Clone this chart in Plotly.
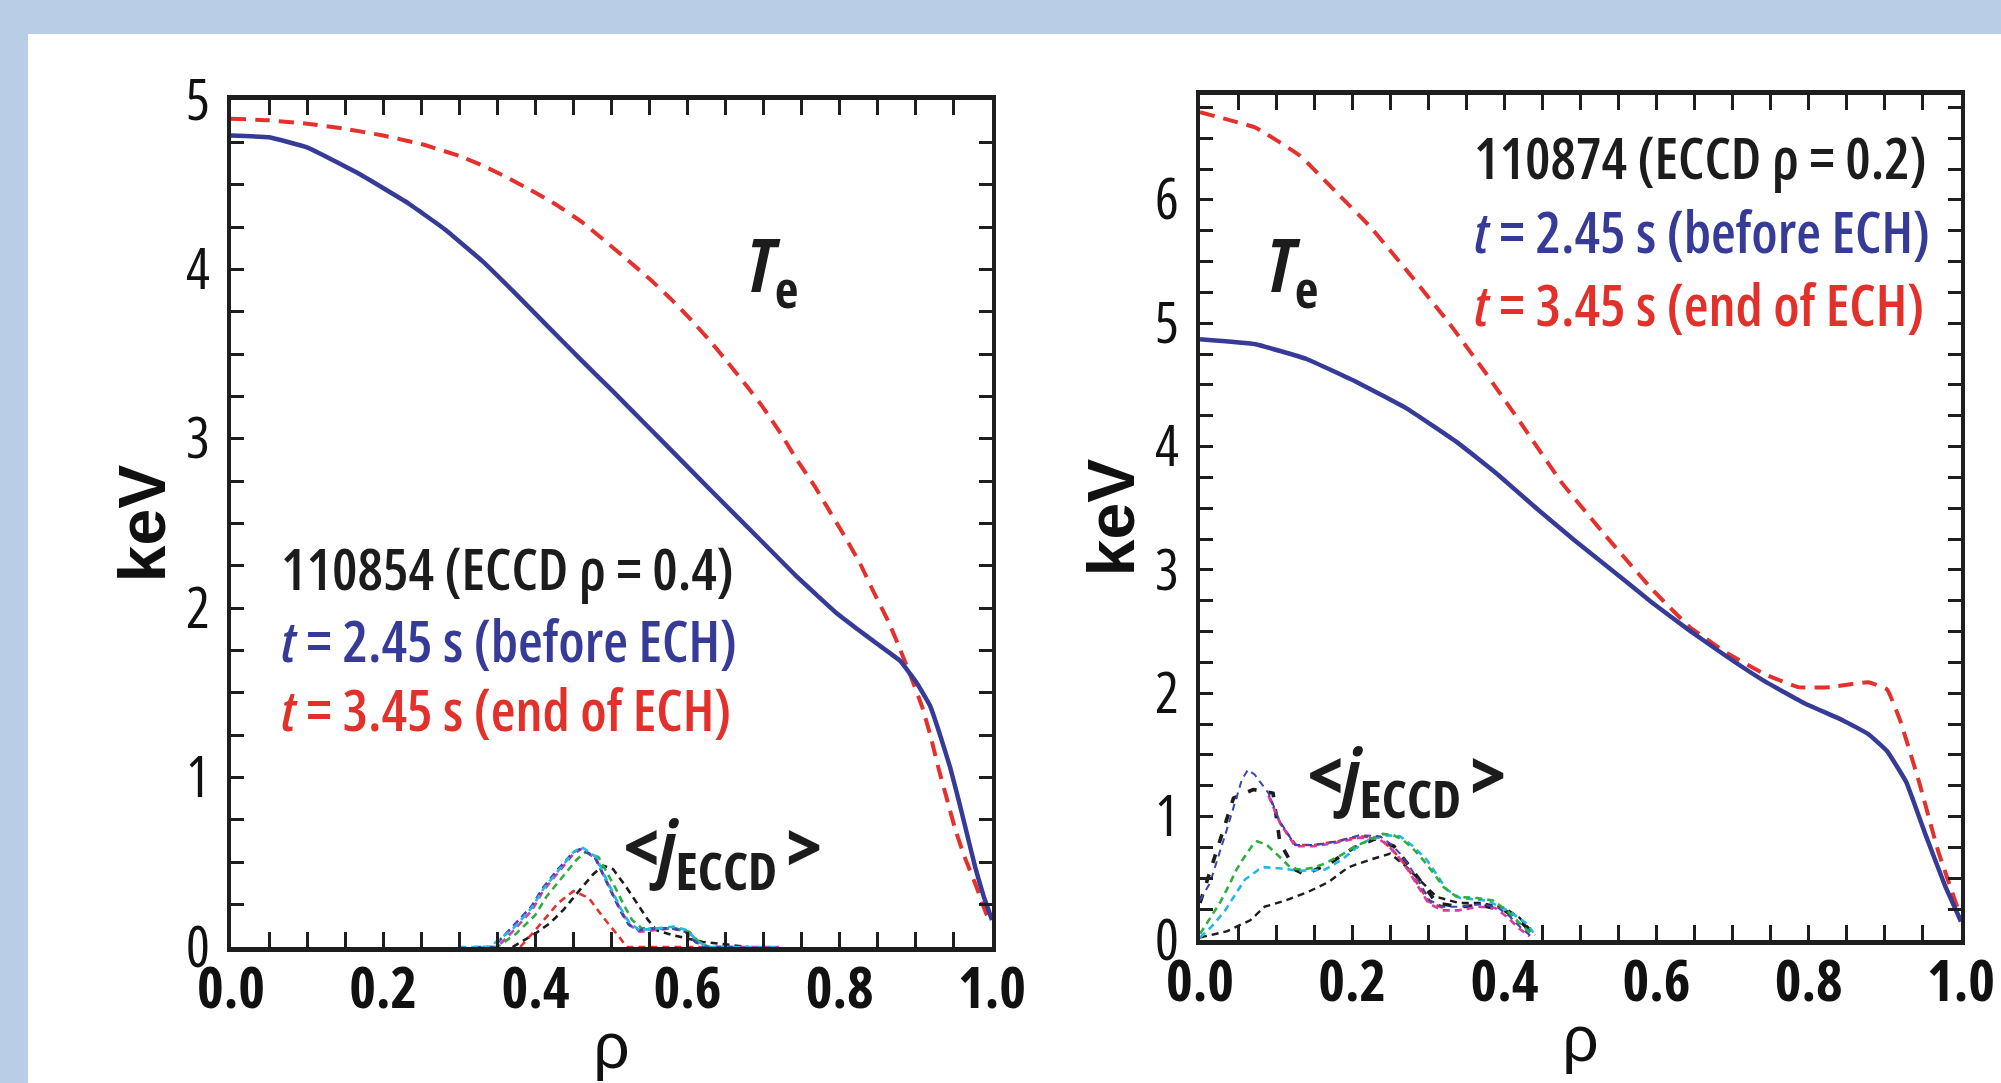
import plotly.graph_objects as go

# ---------------- electron temperature profiles ----------------
# shot 110854 (ECCD at rho = 0.4)
rho_L_before = [0.0, 0.05, 0.10, 0.166, 0.233, 0.28, 0.33, 0.371, 0.415, 0.459,
                0.502, 0.546, 0.59, 0.634, 0.694, 0.745, 0.796, 0.822, 0.849, 0.879,
                0.901, 0.919, 0.934, 0.945, 0.956, 0.967, 0.978, 0.989, 1.0]
te_L_before = [4.79, 4.78, 4.72, 4.57, 4.39, 4.24, 4.05, 3.87, 3.67, 3.47,
               3.28, 3.08, 2.88, 2.68, 2.41, 2.18, 1.97, 1.88, 1.79, 1.69,
               1.56, 1.42, 1.22, 1.06, 0.87, 0.67, 0.47, 0.30, 0.16]
rho_L_after = [0.0, 0.05, 0.10, 0.15, 0.20, 0.25, 0.30, 0.332, 0.362, 0.393, 0.428, 0.461,
               0.491, 0.52, 0.551, 0.577, 0.603, 0.629, 0.653, 0.678, 0.70, 0.724,
               0.743, 0.767, 0.783, 0.807, 0.827, 0.844, 0.864, 0.879, 0.894, 0.908,
               0.919, 0.93, 0.941, 0.952, 0.965, 0.98, 0.993, 1.0]
te_L_after = [4.89, 4.88, 4.86, 4.83, 4.79, 4.74, 4.67, 4.61, 4.545, 4.47, 4.38, 4.28,
              4.17, 4.06, 3.94, 3.83, 3.71, 3.58, 3.45, 3.31, 3.18, 3.02,
              2.88, 2.72, 2.60, 2.42, 2.26, 2.10, 1.92, 1.76, 1.59, 1.42,
              1.25, 1.05, 0.87, 0.69, 0.52, 0.35, 0.19, 0.14]

# shot 110874 (ECCD at rho = 0.2)
rho_R_before = [0.0, 0.073, 0.14, 0.207, 0.274, 0.341, 0.392, 0.442, 0.492, 0.543,
                0.593, 0.643, 0.694, 0.744, 0.794, 0.845, 0.878, 0.903, 0.928,
                0.953, 0.979, 1.0]
te_R_before = [4.87, 4.83, 4.71, 4.52, 4.30, 4.02, 3.77, 3.50, 3.24, 2.99,
               2.74, 2.51, 2.29, 2.09, 1.92, 1.78, 1.67, 1.53, 1.28,
               0.86, 0.44, 0.15]
rho_R_after = [0.0, 0.073, 0.131, 0.181, 0.224, 0.274, 0.325, 0.375, 0.425, 0.475,
               0.534, 0.593, 0.643, 0.694, 0.744, 0.786, 0.828, 0.878, 0.903,
               0.92, 0.945, 0.97, 1.0]
te_R_after = [6.71, 6.585, 6.36, 6.05, 5.78, 5.41, 5.02, 4.60, 4.16, 3.71,
              3.27, 2.85, 2.54, 2.32, 2.15, 2.05, 2.05, 2.09, 2.03,
              1.78, 1.28, 0.72, 0.18]

# ---------------- <j_ECCD> profiles (arbitrary units, shown on keV axis) ----------------
jL_rho_cyan = [0.30, 0.34, 0.371, 0.395, 0.41, 0.43, 0.45, 0.461, 0.48, 0.491, 0.502,
               0.513, 0.524, 0.537, 0.559, 0.581, 0.599, 0.612, 0.625, 0.72]
jL_cyan = [0.0, 0.0, 0.11, 0.23, 0.34, 0.45, 0.56, 0.59, 0.53, 0.42, 0.32,
           0.22, 0.14, 0.10, 0.11, 0.12, 0.10, 0.04, 0.0, 0.0]
jL_rho_blue = [0.32, 0.345, 0.37, 0.395, 0.41, 0.43, 0.45, 0.46, 0.478, 0.49, 0.50,
               0.512, 0.523, 0.536, 0.558, 0.58, 0.597, 0.61, 0.622, 0.66]
jL_blue = [0.0, 0.0, 0.12, 0.24, 0.35, 0.46, 0.56, 0.58, 0.53, 0.42, 0.32,
           0.21, 0.13, 0.10, 0.11, 0.11, 0.09, 0.03, 0.0, 0.0]
jL_rho_green = [0.33, 0.35, 0.375, 0.40, 0.415, 0.435, 0.455, 0.466, 0.483, 0.494, 0.505,
                0.516, 0.527, 0.54, 0.562, 0.584, 0.602, 0.615, 0.628, 0.65]
jL_green = [0.0, 0.0, 0.08, 0.19, 0.30, 0.41, 0.52, 0.56, 0.53, 0.44, 0.35,
            0.25, 0.16, 0.11, 0.11, 0.11, 0.09, 0.03, 0.0, 0.0]
jL_rho_magenta = [0.34, 0.35, 0.372, 0.396, 0.41, 0.43, 0.45, 0.461, 0.48, 0.491, 0.502,
                  0.513, 0.524, 0.537, 0.559, 0.58, 0.598, 0.611, 0.624, 0.72]
jL_magenta = [0.0, 0.0, 0.10, 0.22, 0.33, 0.44, 0.55, 0.58, 0.52, 0.41, 0.31,
              0.21, 0.13, 0.09, 0.10, 0.11, 0.09, 0.03, 0.0, 0.0]
jL_rho_black = [0.37, 0.40, 0.419, 0.437, 0.459, 0.476, 0.489, 0.502, 0.52, 0.537,
                0.548, 0.559, 0.58, 0.62, 0.66, 0.68]
jL_black = [0.0, 0.08, 0.14, 0.22, 0.34, 0.43, 0.48, 0.46, 0.35, 0.23,
            0.16, 0.10, 0.07, 0.03, 0.01, 0.0]
jL_rho_red = [0.38, 0.40, 0.43, 0.45, 0.47, 0.49, 0.51, 0.52, 0.63]
jL_red = [0.0, 0.10, 0.26, 0.33, 0.29, 0.17, 0.06, 0.0, 0.0]

jR_rho_blue = [0.0, 0.013, 0.035, 0.055, 0.063, 0.072, 0.09, 0.105, 0.125, 0.15, 0.18,
               0.21, 0.237, 0.25, 0.263, 0.276, 0.289, 0.302, 0.32, 0.342, 0.368,
               0.39, 0.407, 0.42, 0.435]
jR_blue = [0.32, 0.46, 0.89, 1.30, 1.38, 1.34, 1.19, 0.96, 0.77, 0.77, 0.80,
           0.85, 0.84, 0.78, 0.70, 0.59, 0.46, 0.32, 0.27, 0.27, 0.29,
           0.27, 0.19, 0.11, 0.03]
jR_rho_magenta = [0.09, 0.105, 0.125, 0.15, 0.18, 0.21, 0.235, 0.248, 0.26, 0.273,
                  0.286, 0.30, 0.318, 0.34, 0.366, 0.388, 0.405, 0.418, 0.433]
jR_magenta = [1.17, 0.95, 0.76, 0.76, 0.79, 0.83, 0.82, 0.76, 0.68, 0.57,
              0.44, 0.30, 0.24, 0.24, 0.27, 0.26, 0.18, 0.10, 0.03]
jR_rho_red = [0.092, 0.106, 0.126, 0.15, 0.18, 0.21, 0.236, 0.249, 0.262, 0.275,
              0.288, 0.301, 0.319]
jR_red = [1.15, 0.94, 0.77, 0.77, 0.80, 0.84, 0.83, 0.75, 0.67, 0.56,
          0.43, 0.31, 0.26]
jR_rho_green = [0.0, 0.015, 0.026, 0.037, 0.048, 0.057, 0.068, 0.075, 0.088, 0.107,
                0.12, 0.134, 0.151, 0.164, 0.186, 0.204, 0.221, 0.24, 0.254, 0.267,
                0.28, 0.293, 0.307, 0.32, 0.337, 0.364, 0.385, 0.403, 0.42, 0.434]
jR_green = [0.05, 0.19, 0.30, 0.43, 0.57, 0.66, 0.76, 0.80, 0.77, 0.66,
            0.58, 0.57, 0.59, 0.62, 0.69, 0.76, 0.81, 0.86, 0.85, 0.81,
            0.74, 0.65, 0.54, 0.43, 0.35, 0.34, 0.32, 0.24, 0.135, 0.06]
jR_rho_cyan = [0.0, 0.017, 0.033, 0.046, 0.059, 0.077, 0.085, 0.107, 0.13, 0.164,
               0.186, 0.204, 0.221, 0.245, 0.263, 0.28, 0.298, 0.311, 0.324, 0.342,
               0.377, 0.407, 0.429, 0.438]
jR_cyan = [0.02, 0.12, 0.24, 0.36, 0.49, 0.57, 0.59, 0.58, 0.56, 0.57,
           0.65, 0.74, 0.81, 0.85, 0.84, 0.76, 0.65, 0.53, 0.41, 0.34,
           0.32, 0.23, 0.135, 0.06]
jR_rho_black = [0.0, 0.044, 0.07, 0.096, 0.105, 0.125, 0.138, 0.17, 0.2, 0.23, 0.255,
                0.28, 0.311, 0.34, 0.37, 0.40, 0.42, 0.44]
jR_black = [0.3, 1.15, 1.22, 1.19, 0.79, 0.57, 0.53, 0.62, 0.74, 0.82, 0.76,
            0.56, 0.30, 0.27, 0.28, 0.24, 0.16, 0.03]
jR_rho_black2 = [0.0, 0.035, 0.066, 0.085, 0.112, 0.142, 0.169, 0.195, 0.223, 0.25,
                 0.27, 0.29, 0.311, 0.34, 0.37, 0.40, 0.42, 0.44]
jR_black2 = [0.02, 0.07, 0.16, 0.27, 0.32, 0.39, 0.47, 0.59, 0.65, 0.70,
             0.60, 0.48, 0.35, 0.30, 0.30, 0.26, 0.18, 0.04]

# tick labels
x_tick_vals = [0.0, 0.2, 0.4, 0.6, 0.8, 1.0]
x_tick_text = ["0.0", "0.2", "0.4", "0.6", "0.8", "1.0"]
yL_tick_vals = [0, 1, 2, 3, 4, 5]
yR_tick_vals = [0, 1, 2, 3, 4, 5, 6]

# ---------------- style ----------------
W, H = 2001, 1083
BLUE = "#363b98"
RED = "#e5302c"
TXT_BLUE = "#363b98"
TXT_RED = "#e3302b"
INK = "#1c1c1c"
CYAN = "#1fb8ec"
GREEN = "#2fae3c"
MAGENTA = "#d63aa8"
JBLUE = "#3e44b0"
FONT = "Open Sans, Liberation Sans, sans-serif"
SANS = "Liberation Sans, Arial, sans-serif"


def cond(s, weight=400):
    """Condensed face of the (variable-width) Open Sans font."""
    return '<span style="font-stretch:condensed;font-weight:%d">%s</span>' % (weight, s)


def px_x(p):
    return p / W


def px_y(p):
    return 1 - p / H


fig = go.Figure()


def jline(x, y, color, axis, width=2.6, dash="7px,5px"):
    fig.add_trace(go.Scatter(x=x, y=y, mode="lines", xaxis="x" + axis, yaxis="y" + axis,
                             line=dict(color=color, width=width, dash=dash),
                             showlegend=False, hoverinfo="skip"))


# left panel current-drive traces
jline(jL_rho_black, jL_black, INK, "")
jline(jL_rho_red, jL_red, RED, "")
jline(jL_rho_magenta, jL_magenta, MAGENTA, "")
jline(jL_rho_green, jL_green, GREEN, "")
jline(jL_rho_blue, jL_blue, JBLUE, "")
jline(jL_rho_cyan, jL_cyan, CYAN, "")

# right panel current-drive traces
jline(jR_rho_black2, jR_black2, INK, "2", width=2.4)
jline(jR_rho_black, jR_black, INK, "2", width=3.6, dash="9px,12px")
jline(jR_rho_red, jR_red, RED, "2")
jline(jR_rho_magenta, jR_magenta, MAGENTA, "2")
jline(jR_rho_cyan, jR_cyan, CYAN, "2")
jline(jR_rho_green, jR_green, GREEN, "2")
jline(jR_rho_blue, jR_blue, JBLUE, "2", width=2.0)

# temperature profiles
for ax, rb, tb, ra, ta in [("", rho_L_before, te_L_before, rho_L_after, te_L_after),
                           ("2", rho_R_before, te_R_before, rho_R_after, te_R_after)]:
    fig.add_trace(go.Scatter(x=ra, y=ta, mode="lines", xaxis="x" + ax, yaxis="y" + ax,
                             line=dict(color=RED, width=4, dash="15px,9px", shape="spline",
                                       smoothing=0.3),
                             showlegend=False, hoverinfo="skip"))
    fig.add_trace(go.Scatter(x=rb, y=tb, mode="lines", xaxis="x" + ax, yaxis="y" + ax,
                             line=dict(color=BLUE, width=4.5, shape="spline", smoothing=0.3),
                             showlegend=False, hoverinfo="skip"))

# ---------------- axes ----------------
common_x = dict(range=[0, 1], tickmode="array", tickvals=x_tick_vals,
                ticktext=[cond(t, 700) for t in x_tick_text],
                automargin=False,
                showline=True, linecolor="#1e1e1e", linewidth=5, mirror="ticks",
                ticks="inside", ticklen=15, tickwidth=3, tickcolor="#1e1e1e",
                minor=dict(tickmode="linear", tick0=0, dtick=0.05, ticks="inside",
                           ticklen=15, tickwidth=3, tickcolor="#1e1e1e"),
                showgrid=False, zeroline=False, ticklabeloverflow="allow",
                tickfont=dict(family=FONT, size=57, color="#111111"),
                ticklabelstandoff=-12,
                title=dict(text="ρ", font=dict(family=SANS, size=64, color="#111111"),
                           standoff=0))
common_y = dict(tickmode="array", automargin=False,
                showline=True, linecolor="#1e1e1e", linewidth=4, mirror="ticks",
                ticks="inside", ticklen=13, tickwidth=3, tickcolor="#1e1e1e",
                minor=dict(tickmode="linear", tick0=0, dtick=0.25, ticks="inside",
                           ticklen=13, tickwidth=3, tickcolor="#1e1e1e"),
                showgrid=False, zeroline=False, ticklabeloverflow="allow",
                tickfont=dict(family=FONT, size=56, color="#111111"),
                ticklabelstandoff=6,
                title=dict(text="<b>keV</b>", font=dict(family=SANS, size=66, color="#111111"),
                           standoff=0))

fig.update_layout(
    width=W, height=H,
    margin=dict(l=0, r=0, t=0, b=0, autoexpand=False),
    paper_bgcolor="#b9cde7",
    plot_bgcolor="white",
    xaxis=dict(domain=[px_x(231), px_x(992)], anchor="y", **common_x),
    yaxis=dict(domain=[px_y(947), px_y(100)], anchor="x", range=[0, 5],
               tickvals=yL_tick_vals,
               ticktext=[cond(str(v), 500) for v in yL_tick_vals], **common_y),
    xaxis2=dict(domain=[px_x(1200), px_x(1961)], anchor="y2", **common_x),
    yaxis2=dict(domain=[px_y(940), px_y(95)], anchor="x2", range=[0, 6.85],
                tickvals=yR_tick_vals,
                ticktext=[cond(str(v), 500) for v in yR_tick_vals], **common_y),
)

# white panel behind both plots
fig.add_shape(type="rect", xref="paper", yref="paper", layer="below",
              x0=px_x(28), x1=1.0, y0=0.0, y1=px_y(34),
              fillcolor="white", line=dict(width=0))


def note(x, y, text, color=INK, size=57, weight=600, xanchor="left"):
    fig.add_annotation(xref="paper", yref="paper", x=px_x(x), y=px_y(y),
                       text=cond(text, weight),
                       showarrow=False, xanchor=xanchor, yanchor="middle",
                       font=dict(family=FONT, size=size, color=color))


TE_LABEL = "<i>T</i><sub>e</sub>"
J_LABEL = ('&lt;<i>j</i><sub><span style="font-size:52px">ECCD\u00a0</span></sub>'
           '&gt;')

# left panel labels
note(744, 268, TE_LABEL, size=74, weight=700)
note(279, 568, "110854 (ECCD ρ = 0.4)")
note(279, 640, "<i>t</i> = 2.45 s (before ECH)", color=TXT_BLUE)
note(279, 709, "<i>t</i> = 3.45 s (end of ECH)", color=TXT_RED)
note(622, 850, J_LABEL, size=74, weight=700)

# right panel labels
note(1264, 268, TE_LABEL, size=74, weight=700)
note(1472, 157, "110874 (ECCD ρ = 0.2)")
note(1472, 231, "<i>t</i> = 2.45 s (before ECH)", color=TXT_BLUE)
note(1472, 304, "<i>t</i> = 3.45 s (end of ECH)", color=TXT_RED)
note(1306, 778, J_LABEL, size=74, weight=700)

fig.write_html("out.html")
